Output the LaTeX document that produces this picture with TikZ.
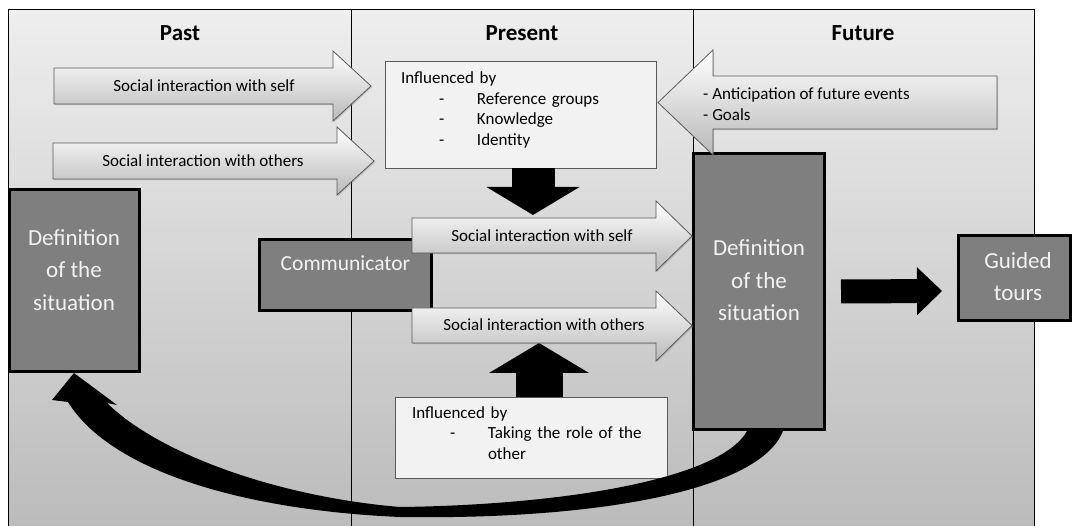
\documentclass[tikz,border=0pt]{standalone}
\usepackage{fontspec}
\setmainfont{Carlito}
\usepackage{xcolor}
\usepackage{tikz}
\usetikzlibrary{arrows.meta, shadows}

\definecolor{panelhi}{RGB}{238,238,238}
\definecolor{panello}{RGB}{186,186,186}
\definecolor{darkfill}{RGB}{127,127,127}
\definecolor{boxfill}{RGB}{242,242,242}
\definecolor{rimgray}{RGB}{89,89,89}
\definecolor{softwhite}{RGB}{242,242,242}

% one indented entry of an "Influenced by" list
\newcommand{\infitem}[1]{\hspace*{38pt}\makebox[38pt][l]{-}#1}

\begin{document}
\begin{tikzpicture}[x=1pt,y=-1pt]
    \tikzset{panel/.style = {draw=black, line width=1pt, top color=panelhi, bottom color=panello}}
    \tikzset{title/.style = {font=\fontsize{23}{27}\selectfont\bfseries, inner sep=0pt}}
    \tikzset{darkbox/.style = {draw=black, line width=3pt, fill=darkfill, inner sep=0pt}}
    \tikzset{darktext/.style = {text=softwhite, align=center, inner sep=0pt, font=\fontsize{23}{32.5}\selectfont}}
    \tikzset{infobox/.style = {draw=rimgray, line width=.8pt, fill=boxfill, inner sep=0pt,
        drop shadow={shadow xshift=1.2pt, shadow yshift=-1.2pt, opacity=.35}}}
    \tikzset{small/.style = {font=\fontsize{17}{20.5}\selectfont, inner sep=0pt}}
    \tikzset{lightarrow/.style = {draw=rimgray, line width=.8pt, top color=white, bottom color=gray!55,
        drop shadow={shadow xshift=1.2pt, shadow yshift=-1.2pt, opacity=.35}}}
    \tikzset{bigarrow/.style = {draw=black, line cap=butt}}
    \useasboundingbox (0,0) rectangle (1074,526);
    % panels
    \path[panel] (8,10) rectangle (351,540);
    \path[panel] (351,10) rectangle (693,540);
    \path[panel] (693,10) rectangle (1034,540);
    \node[title] (past) at (180,33) {Past};
    \node[title] (present) at (522,33) {Present};
    \node[title] (future) at (863,33) {Future};
    % boxes
    \node[darkbox, minimum width=130pt, minimum height=182pt] (pastdef) at (74,280.5) {};
    \node[darkbox, minimum width=172pt, minimum height=71pt] (comm) at (345.5,275) {};
    \node[darkbox, minimum width=131pt, minimum height=276pt] (futdef) at (759,291.5) {};
    \node[darkbox, minimum width=112pt, minimum height=85pt] (guided) at (1014.5,278) {};
    \node[infobox, minimum width=271pt, minimum height=107pt] (infl1) at (520.5,114.5) {};
    \node[infobox, minimum width=272pt, minimum height=81pt] (infl2) at (531,437.5) {};
    % feedback arrow
    \fill ([xshift=-12pt]futdef.south) .. controls (720,480) and (560,505) .. (400,507)
        .. controls (280,497) and (160,455) .. (107,403) -- (117,405) -- (pastdef.south)
        -- (52,400) -- (68,402) .. controls (110,470) and (240,510) .. (400,517)
        .. controls (600,520) and (760,490) .. ([xshift=24pt]futdef.south) -- cycle;
    % black arrows
    \coordinate (downtip) at (533,215);
    \coordinate (uptip) at (539,343);
    \coordinate (righttip) at (942,291);
    \draw[bigarrow, line width=43pt, -{Triangle[width=93pt, length=28pt, line width=0pt]}] (infl1.south -| downtip) -- (downtip);
    \draw[bigarrow, line width=47pt, -{Triangle[width=100pt, length=30pt, line width=0pt]}] (infl2.north -| uptip) -- (uptip);
    \draw[bigarrow, line width=24pt, -{Triangle[width=48pt, length=25pt, line width=0pt]}] ([xshift=15pt]futdef.east) -- (righttip);
    % light arrows
    \draw[lightarrow] (54,68) -- (333,68) -- (333,51) -- (371,86) -- (333,121) -- (333,104) -- (54,104) -- cycle;
    \draw[lightarrow] (53,143) -- (337,143) -- (337,127) -- (374,161) -- (337,195) -- (337,179) -- (53,179) -- cycle;
    \draw[lightarrow] (412,218) -- (656,218) -- (656,201) -- (692,236) -- (656,271) -- (656,253) -- (412,253) -- cycle;
    \draw[lightarrow] (412,308) -- (656,308) -- (656,291) -- (692,325.5) -- (656,361) -- (656,343) -- (412,343) -- cycle;
    \draw[lightarrow] (997,76) -- (713,76) -- (713,50) -- (658,102.5) -- (713,155) -- (713,129) -- (997,129) -- cycle;
    % texts
    \node[small] (selfpast) at (204,86) {Social interaction with self};
    \node[small] (otherspast) at (203,161) {Social interaction with others};
    \node[small] (selfnow) at (542,235.5) {Social interaction with self};
    \node[small] (othersnow) at (544,325) {Social interaction with others};
    \node[small, align=left, anchor=west] (ahead) at (703,104) {- Anticipation of future events\\- Goals};
    \node[small, text width=239pt, align=left] (infl1text) at (520.5,110)
        {Influenced by\\\infitem{Reference groups}\\\infitem{Knowledge}\\\infitem{Identity}};
    \node[small, text width=238pt, align=left] (infl2text) at (531,433)
        {Influenced by\\\infitem{Taking the role of the}\\\hspace*{76pt}other};
    \node[darktext] (pastdeftext) at (74,270) {Definition\\of the\\situation};
    \node[darktext, font=\fontsize{21.5}{26}\selectfont] (commtext) at (345.5,263) {Communicator};
    \node[darktext] (futdeftext) at (759,280.5) {Definition\\of the\\situation};
    \node[darktext] (guidedtext) at (1018,276.5) {Guided\\tours};
\end{tikzpicture}
\end{document}
